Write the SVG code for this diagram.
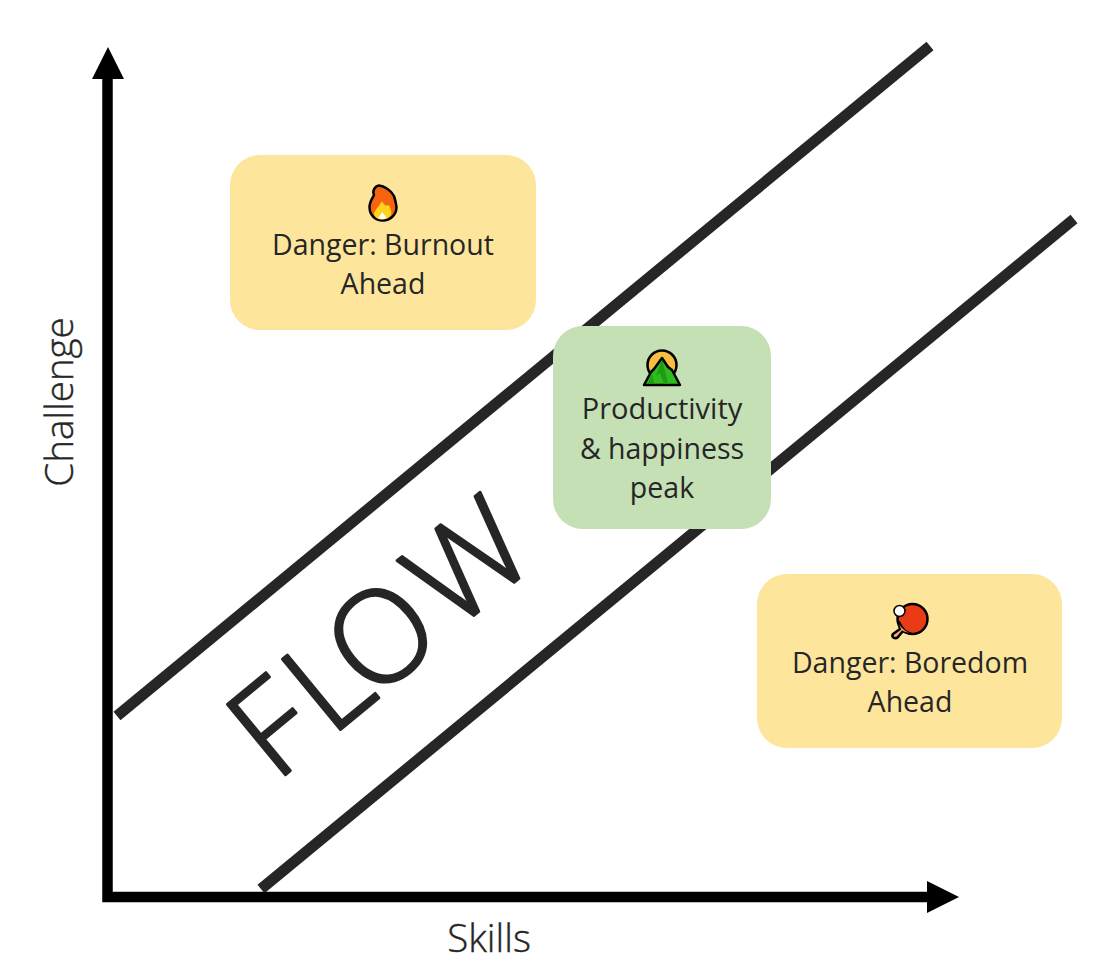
<svg xmlns="http://www.w3.org/2000/svg" width="1116" height="975" viewBox="0 0 1116 975">
<style>
.t{font-family:"Open Sans","Noto Sans","Liberation Sans",sans-serif;fill:#262626;font-size:28.5px;text-anchor:middle}
.a{font-size:38.5px;font-weight:300;stroke:#262626;stroke-width:.4}
.f{stroke:#262626;stroke-width:11;fill:none}
.o{stroke:#000;stroke-width:2.500;stroke-linejoin:round}
</style>
<rect width="1116" height="975" fill="#fff"/>
<g id="connectors">
<line class="f" x1="117" y1="716" x2="930" y2="46"/>
<line class="f" x1="261" y1="889" x2="1074" y2="219"/>
<path d="M107.500 70V897H935" fill="none" stroke="#000" stroke-width="10.500"/>
<polygon points="108,47 92,79 124,79" fill="#000"/>
<polygon points="959,897 927,881 927,913" fill="#000"/>
</g>
<text class="t a" id="label-challenge" transform="translate(73,402) rotate(-90)">Challenge</text>
<text class="t a" id="label-skills" x="489" y="952">Skills</text>
<text class="t" id="label-flow" transform="translate(409,673) rotate(-39.500)" dx="0 7 -11 8" dy="0 0 -1 -2" style="font-size:128px;font-weight:300;stroke:#262626;stroke-width:2.800;stroke-linejoin:round">FLOW</text>
<g id="burnout">
<rect x="230" y="155" width="306" height="175" rx="30" fill="#fde69b"/>
<path class="o" d="M379 185.500C384 186 391 190 394 196C395 199 396 203 396.500 207C396.500 215 390 220.500 383 220.500C375 220.500 369.500 215 369.500 207C369.500 202 372 199 374 195C372 191 375 186 379 185.500Z" fill="#f5640f"/>
<path d="M382 201C384 206 387 206 389 205C391 210 392 212 391 215C389 218 386 219.500 382 219.500C378 219.500 375 218 374 214C375 209 379 207 382 201Z" fill="#ffd21e"/>
<path d="M382 212C384 215 387 216 386 218C385 219.500 380 219.500 378.500 218C378.500 216 381 215 382 212Z" fill="#fff"/>
<text class="t" x="383" y="255">Danger: Burnout</text>
<text class="t" x="383" y="294">Ahead</text>
</g>
<g id="productivity">
<rect x="553" y="326" width="218" height="203" rx="30" fill="#c5e0b4"/>
<circle class="o" cx="662" cy="365" r="14.500" fill="#f6bd41"/>
<path class="o" d="M644 385L651 372L654 369L662 358L668 367L672 370L680 385Z" fill="#2fbb1f"/>
<path d="M662 360L656 376L660 373L664 384H668L665 371Z" fill="#1e9c14"/>
<path d="M652 374L648 383H654Z" fill="#1e9c14"/>
<text class="t" x="662" y="419" style="font-size:29px">Productivity</text>
<text class="t" x="662" y="459">&amp; happiness</text>
<text class="t" x="662" y="498">peak</text>
</g>
<g id="boredom">
<rect x="757" y="574" width="305" height="174" rx="30" fill="#fde69b"/>
<circle class="o" cx="912.500" cy="619" r="15" fill="#ea3c14"/>
<path class="o" d="M899 622L900 629L893 634C891 637 895 640 898 637L903 631L910 633.500C905 632 901 627 899 622Z" fill="#f7a67a"/>
<path d="M899 624L901 629L903 631L909 633C905 631 901 628 899 624Z" fill="#f7a67a"/>
<circle cx="899.500" cy="611" r="5.500" fill="#fff" stroke="#000" stroke-width="1.500"/>
<text class="t" x="910" y="673">Danger: Boredom</text>
<text class="t" x="910" y="712">Ahead</text>
</g>
</svg>
